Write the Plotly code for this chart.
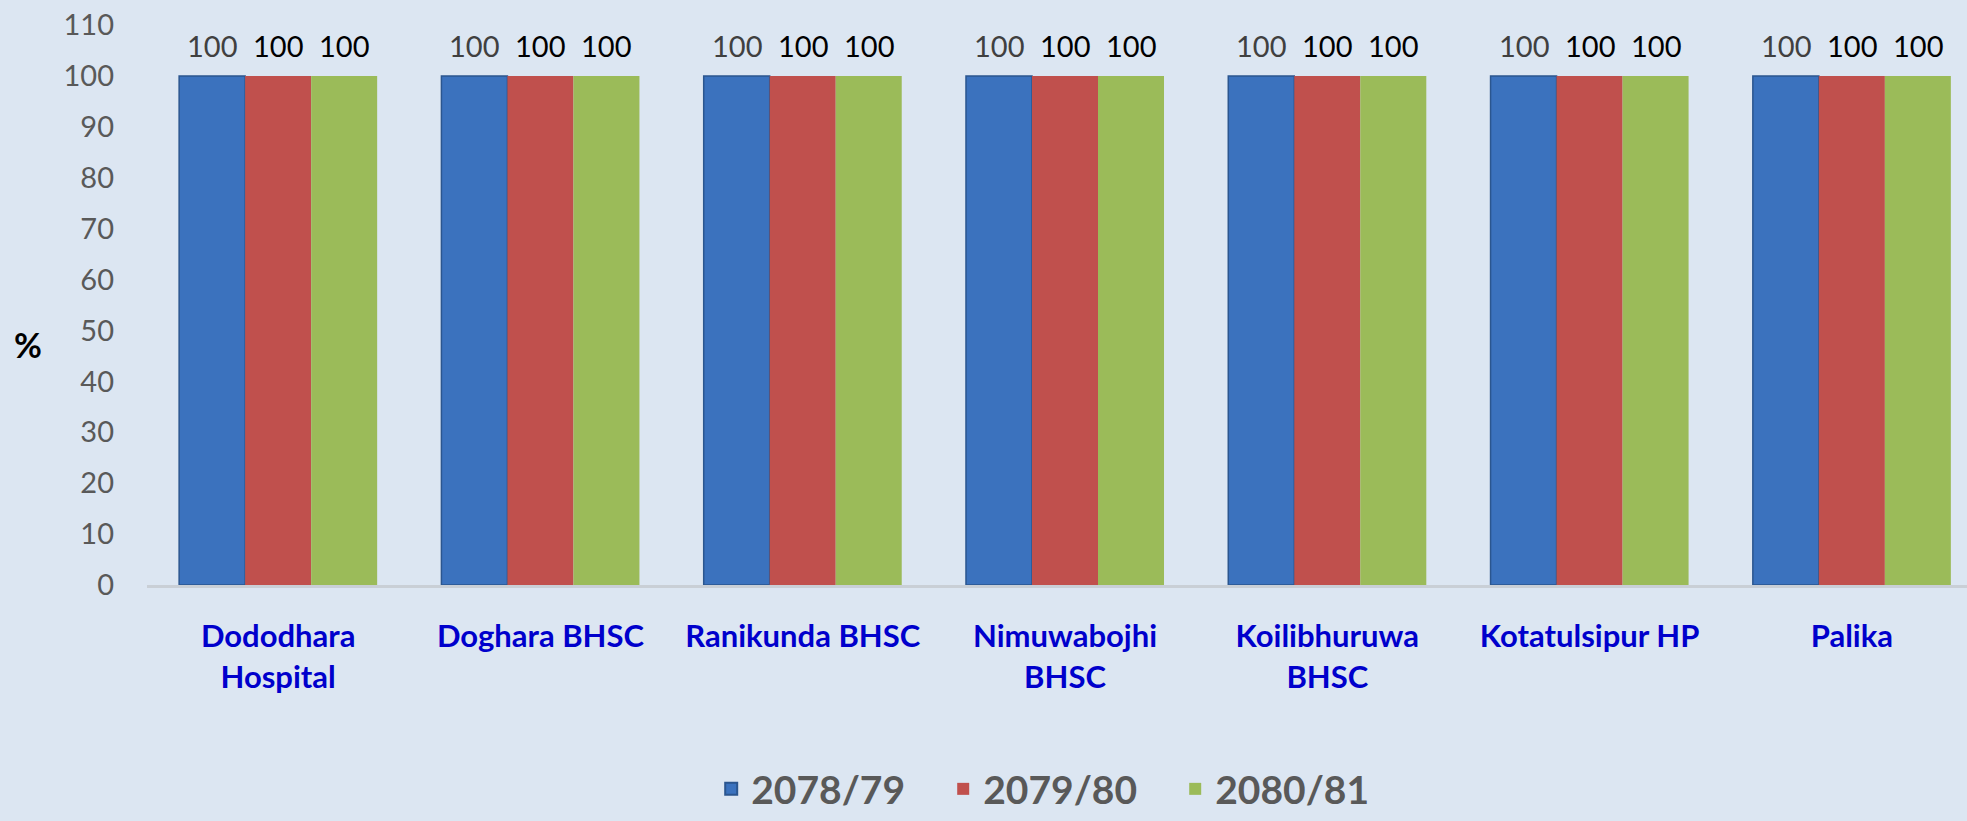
import plotly.graph_objects as go

categories = ["Dododhara<br>Hospital", "Doghara BHSC", "Ranikunda BHSC", "Nimuwabojhi<br>BHSC",
              "Koilibhuruwa<br>BHSC", "Kotatulsipur HP", "Palika"]
series_names = ["2078/79", "2079/80", "2080/81"]
values_2078 = [100, 100, 100, 100, 100, 100, 100]
values_2079 = [100, 100, 100, 100, 100, 100, 100]
values_2080 = [100, 100, 100, 100, 100, 100, 100]
y_ticks = [0, 10, 20, 30, 40, 50, 60, 70, 80, 90, 100, 110]

colors = ["#3B72BE", "#C0504D", "#9BBB59"]
line_colors = ["#2B568F", "#C0504D", "#9BBB59"]
text_colors = ["#404040", "#000000", "#000000"]

FONT = "Lato"
W, H = 1967, 821
ML, MR, MT, MB = 147, 0, 25, 228
x_range = [-0.5, 6.439]
bargap = 0.245

fig = go.Figure()
all_series = [values_2078, values_2079, values_2080]
for name, vals, c, lc in zip(series_names, all_series, colors, line_colors):
    fig.add_trace(go.Bar(
        x=categories, y=vals, name=name,
        marker=dict(color=c, line=dict(color=lc, width=1.5 if lc != c else 0)),
    ))

# data labels above bars
cat_px = (W - ML - MR) / (x_range[1] - x_range[0])
bar_px = cat_px * (1 - bargap) / len(series_names)
annotations = []
for i, (vals, tc) in enumerate(zip(all_series, text_colors)):
    for cat, v in zip(categories, vals):
        annotations.append(dict(x=cat, y=v, xref="x", yref="y", text=str(v), showarrow=False,
                                xshift=(i - 1) * bar_px, yshift=30, yanchor="middle",
                                font=dict(family=FONT, size=29, color=tc)))
annotations.append(dict(text="<b>%</b>", x=-0.0654, y=0.43, xref="paper", yref="paper",
                        xanchor="center", yanchor="middle",
                        showarrow=False, font=dict(family=FONT, size=34, color="#000000")))

fig.update_layout(
    width=W, height=H,
    margin=dict(l=ML, r=MR, t=MT, b=MB),
    paper_bgcolor="#DCE6F2", plot_bgcolor="#DCE6F2",
    barmode="group", bargap=bargap, bargroupgap=0,
    font=dict(family=FONT),
    showlegend=True,
    legend=dict(orientation="h", x=0.31, xanchor="left", y=-0.3644, yanchor="middle",
                entrywidth=187, entrywidthmode="pixels",
                font=dict(family=FONT, size=39, color="#595959", weight="bold"),
                bgcolor="rgba(0,0,0,0)", itemsizing="constant"),
    annotations=annotations,
)
fig.update_xaxes(range=x_range, showline=True, linecolor="#C9CFD6", linewidth=3,
                 showgrid=False, ticks="", ticklabelstandoff=22,
                 tickfont=dict(family=FONT, size=31, color="#0000CC", weight="bold"))
fig.update_yaxes(range=[0, 110], tickvals=y_ticks, showgrid=False, zeroline=False,
                 showline=False, ticks="", ticklabelstandoff=32,
                 tickfont=dict(family=FONT, size=29, color="#595959"))

fig.write_html("out.html", config={"displayModeBar": False},
               post_script="document.body.style.margin='0';document.body.style.overflow='hidden';")
